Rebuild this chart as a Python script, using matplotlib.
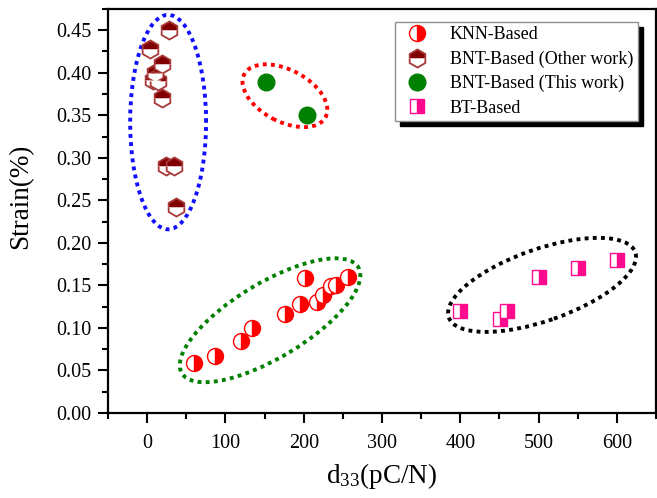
import numpy as np
import matplotlib
matplotlib.use('Agg')
import matplotlib.pyplot as plt
from matplotlib.patches import Ellipse
from matplotlib.transforms import Affine2D
from matplotlib.ticker import MultipleLocator, FormatStrFormatter

plt.rcParams['font.family'] = ['Liberation Serif', 'DejaVu Serif']
plt.rcParams['mathtext.fontset'] = 'custom'
plt.rcParams['mathtext.rm'] = 'Liberation Serif'
plt.rcParams['mathtext.it'] = 'Liberation Serif:italic'

# ---- data ----
knn_d33 = [60, 87, 120, 134, 176, 195, 202, 217, 225, 235, 241, 257]
knn_strain = [0.059, 0.067, 0.085, 0.100, 0.116, 0.128, 0.159, 0.130, 0.139, 0.149, 0.150, 0.160]

bnt_other_d33 = [28, 4, 19, 10, 8, 14, 19, 24, 34, 37]
bnt_other_strain = [0.450, 0.428, 0.410, 0.400, 0.392, 0.390, 0.370, 0.290, 0.290, 0.242]

bnt_this_d33 = [152, 204]
bnt_this_strain = [0.389, 0.350]

bt_d33 = [400, 451, 460, 500, 550, 600]
bt_strain = [0.120, 0.110, 0.120, 0.160, 0.170, 0.180]

labels = ['KNN-Based', 'BNT-Based (Other work)', 'BNT-Based (This work)', 'BT-Based']

# group ellipses: center (d33, strain), semi-axes in d33 units (isotropic), angle
ellipses = [
    (26.8, 0.342, 137.0, 48.5, 90.0, '#1010ff'),
    (176.0, 0.373, 58.7, 33.2, -27.8, '#ff0000'),
    (157.0, 0.109, 131.5, 47.8, 31.0, '#008000'),
    (504.5, 0.1506, 126.2, 45.8, 19.3, '#000000'),
]

XLIM = (-50, 650)
YLIM = (0, 0.475)

fig = plt.figure(figsize=(6.57, 4.98), dpi=100)
rect = [0.1644, 0.1707, 0.834, 0.8113]
ax = fig.add_axes(rect)
ax.set_xlim(*XLIM)
ax.set_ylim(*YLIM)

ax_w = rect[2] * 657
ax_h = rect[3] * 498
s = (ax_h / (YLIM[1] - YLIM[0])) / (ax_w / (XLIM[1] - XLIM[0]))
for cx, cy, a, b, ang, col in ellipses:
    e = Ellipse((cx, cy * s), 2 * a, 2 * b, angle=ang,
                transform=Affine2D().scale(1, 1 / s) + ax.transData,
                fill=False, edgecolor=col, lw=2.8, linestyle=(0, (1, 1.1)), zorder=1)
    ax.add_patch(e)

ax.plot(knn_d33, knn_strain, linestyle='none', marker='o', ms=11.5,
        fillstyle='right', markerfacecolor='#ff0000', markerfacecoloralt='white',
        markeredgecolor='#ff0000', mew=1.0, zorder=3, label=labels[0])
ax.plot(bnt_other_d33, bnt_other_strain, linestyle='none', marker='h', ms=13,
        fillstyle='top', markerfacecolor='#800000', markerfacecoloralt='white',
        markeredgecolor='#a83838', mew=1.3, zorder=3, label=labels[1])
ax.plot(bnt_this_d33, bnt_this_strain, linestyle='none', marker='o', ms=12,
        markerfacecolor='#008000', markeredgecolor='#008000', mew=1.0, zorder=3,
        label=labels[2])
ax.plot(bt_d33, bt_strain, linestyle='none', marker='s', ms=10.5,
        fillstyle='right', markerfacecolor='#ff0a8c', markerfacecoloralt='white',
        markeredgecolor='#ff0a8c', mew=1.0, zorder=3, label=labels[3])

ax.xaxis.set_major_locator(MultipleLocator(100))
ax.xaxis.set_minor_locator(MultipleLocator(50))
ax.yaxis.set_major_locator(MultipleLocator(0.05))
ax.yaxis.set_minor_locator(MultipleLocator(0.025))
ax.yaxis.set_major_formatter(FormatStrFormatter('%.2f'))

ax.tick_params(which='major', direction='out', length=7, width=1.5, labelsize=14.5, pad=5,
               top=False, right=False)
ax.tick_params(axis='x', which='major', pad=8)
ax.tick_params(which='minor', direction='out', length=4, width=1.5, top=False, right=False)
for sp in ax.spines.values():
    sp.set_linewidth(1.6)

ax.set_ylabel('Strain(%)', fontsize=19.5)
ax.yaxis.set_label_coords(-0.137, 0.537)
ax.set_xlabel(r'd$_{\mathrm{33}}$(pC/N)', fontsize=19.5, labelpad=6)

leg = ax.legend(loc='upper right', bbox_to_anchor=(0.967, 0.968), borderaxespad=0,
                fontsize=13, numpoints=1, fancybox=False, framealpha=1,
                edgecolor='#909090', labelspacing=0.40, borderpad=0.25,
                shadow={'color': 'black', 'alpha': 1, 'ox': 3.5, 'oy': -3.5})
leg.get_frame().set_linewidth(1.0)

fig.savefig('out.png', dpi=100)
